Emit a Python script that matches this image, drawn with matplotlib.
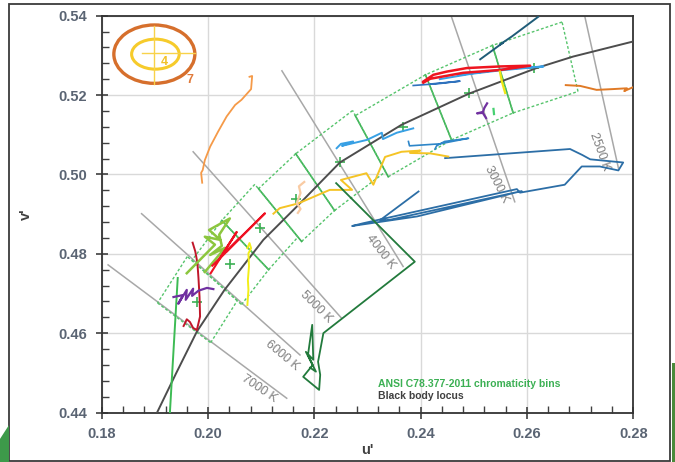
import numpy as np
import matplotlib
matplotlib.use('Agg')
import matplotlib.pyplot as plt
from matplotlib.patches import Ellipse, Rectangle, Polygon

plt.rcParams['font.family'] = ['Liberation Sans', 'DejaVu Sans']

#DATA{{{
# black body locus (u', v')
locus_u = [0.1902, 0.1940, 0.1979, 0.2031, 0.2104, 0.2167, 0.2248, 0.2364, 0.2490, 0.2618, 0.2687, 0.2800]
locus_v = [0.4394, 0.4499, 0.4604, 0.4709, 0.4835, 0.4919, 0.5030, 0.5125, 0.5203, 0.5268, 0.5297, 0.5335]

# ANSI C78.377 quadrangles: upper-warm, upper-cool, lower-cool, lower-warm
bin_cct = [2700, 3000, 3500, 4000, 4500, 5000, 5700, 6500]
bin_u = [[0.2666, 0.2535, 0.2574, 0.2696],
         [0.2535, 0.2409, 0.2458, 0.2574],
         [0.2409, 0.2277, 0.2339, 0.2458],
         [0.2272, 0.2165, 0.2238, 0.2334],
         [0.2165, 0.2095, 0.2176, 0.2238],
         [0.2088, 0.2026, 0.2114, 0.2169],
         [0.2026, 0.1970, 0.2063, 0.2114],
         [0.1961, 0.1905, 0.2005, 0.2055]]
bin_v = [[0.5384, 0.5325, 0.5155, 0.5209],
         [0.5325, 0.5251, 0.5087, 0.5155],
         [0.5251, 0.5148, 0.4994, 0.5087],
         [0.5161, 0.5052, 0.4909, 0.5007],
         [0.5052, 0.4964, 0.4831, 0.4909],
         [0.4975, 0.4884, 0.4760, 0.4842],
         [0.4884, 0.4784, 0.4672, 0.4760],
         [0.4793, 0.4676, 0.4576, 0.4682]]
center_u = [0.2614, 0.2490, 0.2366, 0.2248, 0.2166, 0.2097, 0.2041, 0.1979]
center_v = [0.5268, 0.5205, 0.5120, 0.5031, 0.4938, 0.4864, 0.4773, 0.4678]

# isotemperature lines
iso_label = ['2500 K', '3000 K', '4000 K', '5000 K', '6000 K', '7000 K']
iso_u0 = [0.2709, 0.2458, 0.2139, 0.1972, 0.1875, 0.1812]
iso_v0 = [0.5397, 0.5397, 0.5261, 0.5057, 0.4901, 0.4772]
iso_u1 = [0.2772, 0.2577, 0.2367, 0.2251, 0.2173, 0.2148]
iso_v1 = [0.5016, 0.4931, 0.4768, 0.4638, 0.4545, 0.4436]

# measured lamp traces
orange_u = [0.2078, 0.2083, 0.2081, 0.2063, 0.2051, 0.2035, 0.2019, 0.2004, 0.1994, 0.1990, 0.1987, 0.1989]
orange_v = [0.5246, 0.5248, 0.5215, 0.5188, 0.5175, 0.5146, 0.5108, 0.5070, 0.5036, 0.5011, 0.5004, 0.4979]
dkorange_u = [0.2673, 0.2700, 0.2731, 0.2762, 0.2788, 0.2783, 0.2800]
dkorange_v = [0.5225, 0.5223, 0.5213, 0.5215, 0.5217, 0.5210, 0.5220]
teal_u = [0.2512, 0.2555, 0.2549, 0.2572, 0.2621]
teal_v = [0.5290, 0.5332, 0.5327, 0.5348, 0.5397]
redtop_u = [0.2405, 0.2424, 0.2449, 0.2487, 0.2549, 0.2606, 0.2549, 0.2480, 0.2418, 0.2405]
redtop_v = [0.5234, 0.5251, 0.5259, 0.5268, 0.5272, 0.5274, 0.5263, 0.5256, 0.5241, 0.5231]
ltbluetop_u = [0.2436, 0.2493, 0.2549, 0.2631, 0.2560, 0.2470]
ltbluetop_v = [0.5240, 0.5253, 0.5262, 0.5272, 0.5266, 0.5250]
bluetop_u = [0.2386, 0.2436, 0.2474, 0.2420]
bluetop_v = [0.5224, 0.5229, 0.5235, 0.5228]
yellowtop_u = [0.2549, 0.2553, 0.2559]
yellowtop_v = [0.5259, 0.5233, 0.5205]
purpletop_u = [0.2525, 0.2520, 0.2517, 0.2506, 0.2517, 0.2523]
purpletop_v = [0.5179, 0.5168, 0.5157, 0.5154, 0.5155, 0.5142]
greentop_u = [0.2537, 0.2538]
greentop_v = [0.5165, 0.5152]
ltbluemid_u = [0.2242, 0.2250, 0.2273, 0.2252, 0.2299, 0.2327, 0.2329, 0.2355, 0.2386]
ltbluemid_v = [0.5066, 0.5077, 0.5083, 0.5072, 0.5087, 0.5105, 0.5089, 0.5105, 0.5116]
bluemid_u = [0.2377, 0.2379, 0.2436, 0.2490, 0.2445, 0.2430, 0.2427]
bluemid_v = [0.5083, 0.5072, 0.5077, 0.5091, 0.5083, 0.5072, 0.5064]
blueloop_u = [0.2446, 0.2681, 0.2704, 0.2719, 0.2781, 0.2772, 0.2737, 0.2703, 0.2671, 0.2587, 0.2581,
              0.2292, 0.2271, 0.2393, 0.2590, 0.2340, 0.2324, 0.2396]
blueloop_v = [0.5041, 0.5064, 0.5049, 0.5038, 0.5030, 0.5010, 0.5020, 0.5020, 0.4974, 0.4954, 0.4963,
              0.4877, 0.4870, 0.4894, 0.4958, 0.4885, 0.4885, 0.4957]
gold_u = [0.2123, 0.2135, 0.2170, 0.2229, 0.2271, 0.2250, 0.2298, 0.2311, 0.2333, 0.2364, 0.2399, 0.2380, 0.2418, 0.2452]
gold_v = [0.4901, 0.4915, 0.4927, 0.4961, 0.4961, 0.4986, 0.5003, 0.4974, 0.5044, 0.5057, 0.5060, 0.5054, 0.5053, 0.5045]
peach_u = [0.2181, 0.2171, 0.2174, 0.2167, 0.2174, 0.2169]
peach_v = [0.4981, 0.4970, 0.4953, 0.4928, 0.4913, 0.4903]
dkgreen_u = [0.2241, 0.2389, 0.2217, 0.2213, 0.2207, 0.2211, 0.2209, 0.2179, 0.2197, 0.2188, 0.2196, 0.2198, 0.2184, 0.2203, 0.2192]
dkgreen_v = [0.4978, 0.4780, 0.4600, 0.4571, 0.4528, 0.4495, 0.4457, 0.4490, 0.4520, 0.4545, 0.4621, 0.4533, 0.4553, 0.4503, 0.4513]
green_u = [0.1943, 0.1928]
green_v = [0.4739, 0.4394]
dkred_u = [0.1971, 0.1976, 0.1980, 0.1982, 0.1984, 0.1985, 0.1979, 0.1972, 0.1966, 0.1960, 0.1957, 0.1954]
dkred_v = [0.4828, 0.4806, 0.4777, 0.4739, 0.4692, 0.4642, 0.4608, 0.4613, 0.4628, 0.4635, 0.4626, 0.4618]
purplelo_u = [0.1935, 0.1953, 0.1944, 0.1960, 0.1958, 0.1972, 0.1970, 0.1982, 0.1998, 0.2010]
purplelo_v = [0.4691, 0.4696, 0.4674, 0.4709, 0.4684, 0.4712, 0.4694, 0.4707, 0.4714, 0.4711]
yellowlo_u = [0.2074, 0.2078, 0.2081, 0.2076, 0.2077, 0.2075, 0.2076, 0.2074]
yellowlo_v = [0.4814, 0.4827, 0.4814, 0.4801, 0.4768, 0.4734, 0.4709, 0.4671]
redlo_u = [0.2005, 0.2054, 0.2021, 0.2060, 0.2034, 0.2107, 0.2008]
redlo_v = [0.4751, 0.4855, 0.4787, 0.4840, 0.4805, 0.4902, 0.4770]
lime_u = [0.1960, 0.2013, 0.1994, 0.2023, 0.2002, 0.2041, 0.2021, 0.2026, 0.2004, 0.2032, 0.1994]
lime_v = [0.4751, 0.4823, 0.4843, 0.4835, 0.4860, 0.4889, 0.4848, 0.4820, 0.4797, 0.4815, 0.4754]
#}}}

traces = [
	(orange_u, orange_v, '#f59a48', 1.3),
	(dkorange_u, dkorange_v, '#e07a26', 1.4),
	(teal_u, teal_v, '#1f5c78', 1.4),
	(ltbluetop_u, ltbluetop_v, '#3aa0e6', 1.4),
	(redtop_u, redtop_v, '#ee1520', 1.8),
	(bluetop_u, bluetop_v, '#2f72bd', 1.2),
	(yellowtop_u, yellowtop_v, '#f0e614', 1.6),
	(purpletop_u, purpletop_v, '#7131a0', 1.6),
	(greentop_u, greentop_v, '#45d070', 1.6),
	(ltbluemid_u, ltbluemid_v, '#38a0e4', 1.4),
	(bluemid_u, bluemid_v, '#2e86c8', 1.2),
	(blueloop_u, blueloop_v, '#2c6ea6', 1.3),
	(gold_u, gold_v, '#f5c425', 1.4),
	(peach_u, peach_v, '#f9cba3', 1.6),
	(dkgreen_u, dkgreen_v, '#227a3c', 1.3),
	(green_u, green_v, '#3dbb54', 1.4),
	(dkred_u, dkred_v, '#c0172a', 1.4),
	(purplelo_u, purplelo_v, '#7030a0', 1.6),
	(yellowlo_u, yellowlo_v, '#f2ee1a', 1.4),
	(lime_u, lime_v, '#8cc63e', 1.8),
	(redlo_u, redlo_v, '#ee1122', 1.5),
]

fig = plt.figure(figsize=(6.75, 4.62), dpi=100)
ax = fig.add_axes([0.1507, 0.1071, 0.7875, 0.859])

# isotemperature lines
iso_pos_u = [0.2737, 0.2543, 0.2324, 0.2203, 0.2139, 0.2096]
iso_pos_v = [0.5057, 0.4974, 0.4806, 0.4666, 0.4544, 0.4461]
iso_rot = [-70, -63, -52, -45, -40, -34]
for i in range(len(iso_label)):
	ax.plot([iso_u0[i], iso_u1[i]], [iso_v0[i], iso_v1[i]], color='#a8a8a8', lw=1.1, zorder=2)
	ax.text(iso_pos_u[i], iso_pos_v[i], iso_label[i], rotation=iso_rot[i], rotation_mode='anchor',
		ha='center', va='center', fontsize=9, color='#7f7f7f', zorder=2)

# ANSI bins
dot = dict(color='#56c46c', lw=1.0, ls=(0, (2, 1.5)), zorder=3)
solid = dict(color='#3cb054', lw=1.2, zorder=3)
for i in range(len(bin_cct)):
	bu, bv = bin_u[i], bin_v[i]
	ax.plot(bu[0:2], bv[0:2], **dot)
	ax.plot(bu[2:4], bv[2:4], **dot)
	ax.plot([bu[3], bu[0]], [bv[3], bv[0]], **dot)
	if bin_cct[i] < 5700:
		ax.plot(bu[1:3], bv[1:3], **solid)
	else:
		ax.plot(bu[1:3], bv[1:3], **dot)
ax.plot(center_u, center_v, '+', color='#3cb054', ms=7, mew=1.2, zorder=3)

# black body locus
ax.plot(locus_u, locus_v, color='#4d4d4d', lw=1.4, zorder=4)

for tu, tv, c, w in traces:
	ax.plot(tu, tv, color=c, lw=w, zorder=5, solid_joinstyle='round')

# logo top-left
ax.add_patch(Ellipse((0.1899, 0.5303), 0.01524, 0.01471, fill=False, ec='#d66f2c', lw=2.4, zorder=6))
ax.add_patch(Ellipse((0.1901, 0.5303), 0.00895, 0.00756, fill=False, ec='#f6cb2b', lw=2.2, zorder=6))
ax.plot([0.1875, 0.1976], [0.5306, 0.5306], color='#f8d24a', lw=1.0, zorder=6)
ax.plot([0.1899, 0.1899], [0.5375, 0.5229], color='#f8d24a', lw=1.0, zorder=6)
ax.text(0.1917, 0.5283, '4', fontsize=9, fontweight='bold', color='#f2c22a', ha='center', va='center', zorder=7)
ax.text(0.1966, 0.5238, '7', fontsize=9, fontweight='bold', color='#e07a3a', ha='center', va='center', zorder=7)

ax.text(0.520, 0.0711, 'ANSI C78.377-2011 chromaticity bins', transform=ax.transAxes,
	fontsize=7.5, fontweight='bold', color='#3cb054', va='center', ha='left')
ax.text(0.520, 0.0423, 'Black body locus', transform=ax.transAxes,
	fontsize=7.5, fontweight='bold', color='#404040', va='center', ha='left')

ax.set_xlim(0.18, 0.28)
ax.set_ylim(0.44, 0.54)
ax.set_xticks(np.arange(0.18, 0.2801, 0.02))
ax.set_yticks(np.arange(0.44, 0.5401, 0.02))
ax.set_xticks(np.arange(0.18, 0.2801, 0.004), minor=True)
ax.set_yticks(np.arange(0.44, 0.5401, 0.004), minor=True)
ax.set_xticklabels(['%.2f' % t for t in ax.get_xticks()])
ax.set_yticklabels(['%.2f' % t for t in ax.get_yticks()])
ax.grid(True, which='major', color='#d9d9d9', lw=1.0, zorder=0)
ax.set_axisbelow(True)
ax.tick_params(which='major', direction='inout', length=9, width=1.2, color='#404040',
	labelsize=10.5, labelcolor='#5a6473', pad=6)
ax.tick_params(which='minor', direction='in', length=5, width=1.0, color='#404040')
for t in ax.get_xticklabels() + ax.get_yticklabels():
	t.set_fontweight('bold')
for s in ax.spines.values():
	s.set_color('#333333')
	s.set_linewidth(1.3)

ax.set_xlabel("u'", fontsize=10.5, fontweight='bold', color='#404040')
ax.set_ylabel("v'", fontsize=10.5, fontweight='bold', color='#404040')
ax.xaxis.set_label_coords(0.5, -0.078)
ax.yaxis.set_label_coords(-0.129, 0.5)

# slide frame and decoration
fig.add_artist(Rectangle((0.0133, 0.0022), 0.9793, 0.9885, transform=fig.transFigure,
	fill=False, ec='#3a3a3a', lw=1.3))
fig.add_artist(Polygon([[0.0, 0.0], [0.0133, 0.0], [0.0133, 0.08], [0.0, 0.05]], closed=True,
	transform=fig.transFigure, fc='#3d9a4a', ec='none'))
fig.add_artist(Rectangle((0.9955, 0.0), 0.0045, 0.215, transform=fig.transFigure, fc='#4a8a3a', ec='none'))

plt.savefig('out.png', dpi=100)
